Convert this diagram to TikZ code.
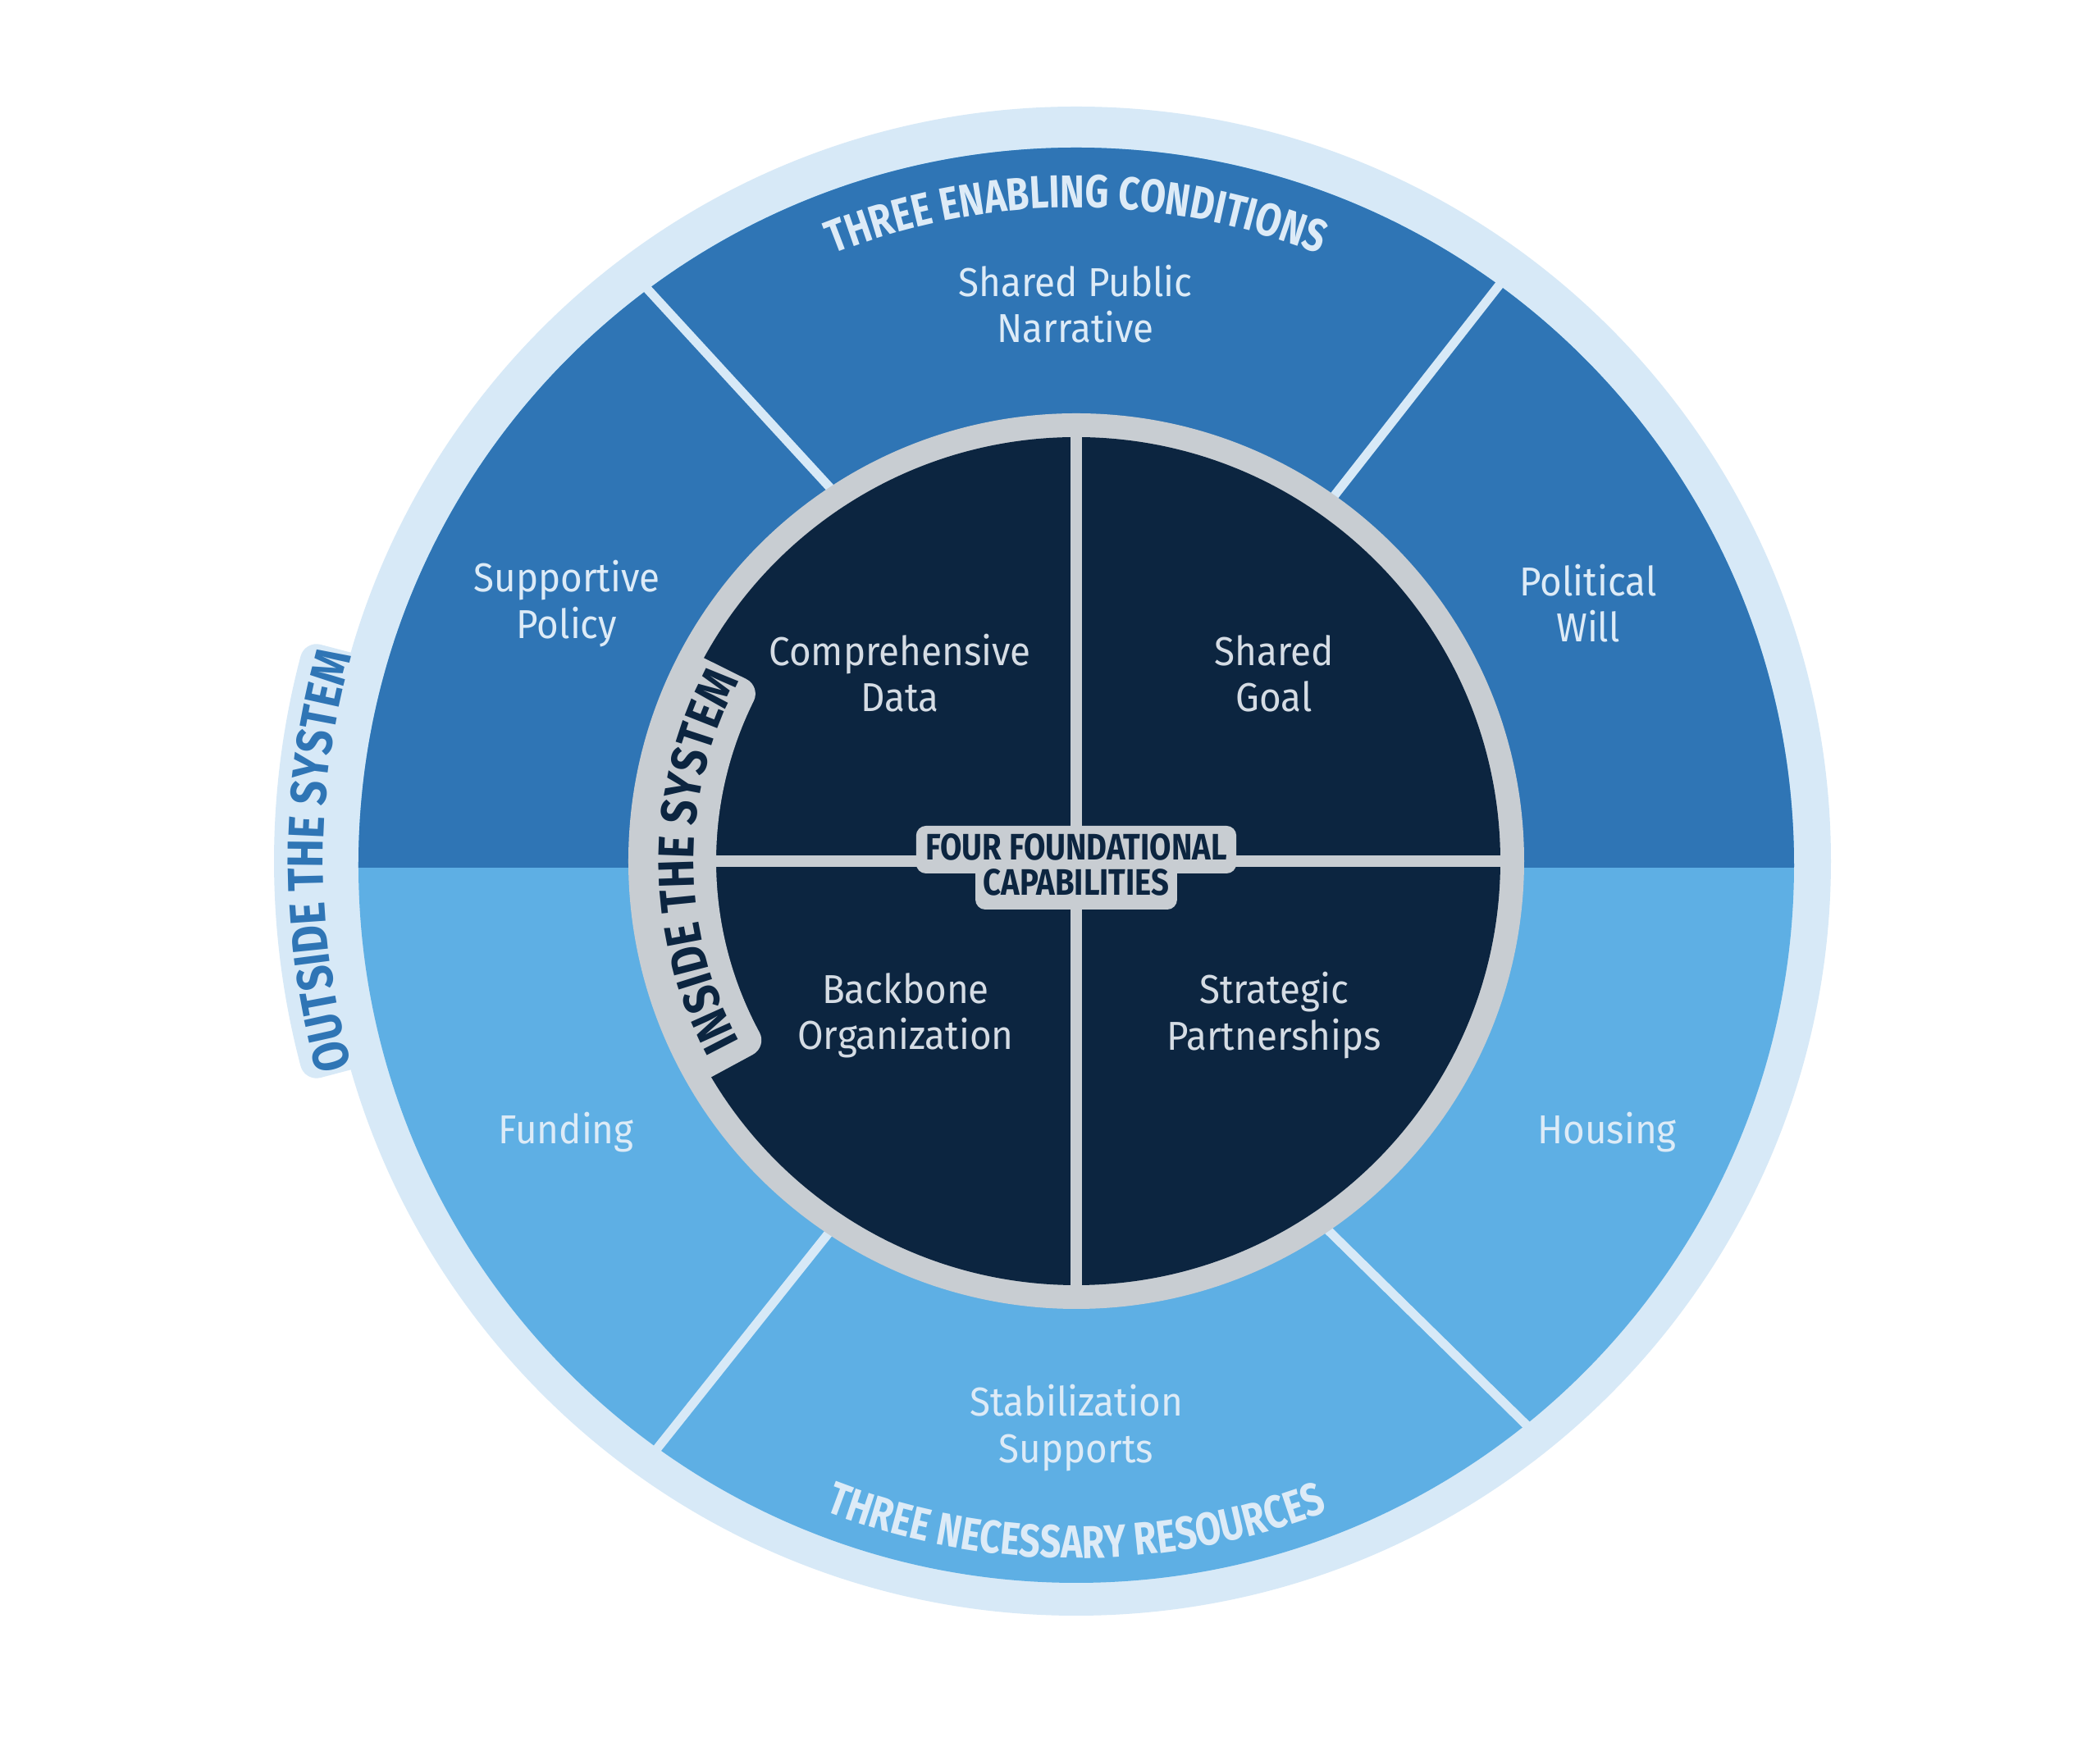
\documentclass[tikz,border=0pt]{standalone}
\usepackage{fontspec}
\setmainfont[FakeStretch=0.93]{Fira Sans}
\newfontfamily\capsfont[FakeStretch=0.85]{Fira Sans}
\newfontfamily\arcfont[FakeStretch=0.8]{Fira Sans}
\usetikzlibrary{decorations.text}
\definecolor{ringlight}{HTML}{D7E9F7}
\definecolor{blueup}{HTML}{2F75B5}
\definecolor{bluelow}{HTML}{5EAFE4}
\definecolor{navy}{HTML}{0C2540}
\definecolor{rimgray}{HTML}{C8CDD2}
\definecolor{paletext}{HTML}{DDEBF7}
\definecolor{greytext}{HTML}{D5DCE4}

\begin{document}
\begin{tikzpicture}[
  ringlabel/.style={font=\fontsize{14}{16}\selectfont, text=paletext, align=center},
  corelabel/.style={font=\fontsize{14}{16}\selectfont, text=greytext, align=center},
  spoke/.style={draw=ringlight, line width=0.11cm},
  cross/.style={draw=rimgray, line width=0.14cm},
  capbox/.style={fill=rimgray, text=navy, rounded corners=0.12cm, inner sep=0pt, anchor=base,
    font=\capsfont\bfseries\fontsize{12.8}{12.8}\selectfont}]
  \useasboundingbox (-13.12,-10.96) rectangle (12.48,10.50);
  \fill[white] (-13.12,-10.96) rectangle (12.48,10.50);

  \fill[ringlight] (0,0) circle (9.20);
  \fill[ringlight, draw=ringlight, line width=0.4cm, line join=round]
    (165.2:9.10) arc[start angle=165.2, end angle=194.8, radius=9.10]
    -- (194.8:9.58) arc[start angle=194.8, end angle=165.2, radius=9.58] -- cycle;
  \fill[bluelow] (0,-0.05) circle (8.75);
  \begin{scope}
    \clip (-9,-0.08) rectangle (9,9);
    \fill[blueup] (0,-0.05) circle (8.75);
  \end{scope}

  \coordinate (ulo) at (126.9:8.80);
  \coordinate (uli) at (123.3:5.40);
  \coordinate (uro) at (53.7:8.80);
  \coordinate (uri) at (54.8:5.40);
  \coordinate (llo) at (234.5:8.80);
  \coordinate (lli) at (236.4:5.40);
  \coordinate (lro) at (308.6:8.80);
  \coordinate (lri) at (304.2:5.40);
  \draw[spoke] (ulo) -- (uli);
  \draw[spoke] (uro) -- (uri);
  \draw[spoke] (llo) -- (lli);
  \draw[spoke] (lro) -- (lri);

  \fill[rimgray] (0,0) circle (5.46);
  \fill[navy] (0,0) circle (5.17);
  \coordinate (ctop) at (90:5.3);
  \coordinate (cbot) at (270:5.3);
  \coordinate (cleft) at (180:5.3);
  \coordinate (cright) at (0:5.3);
  \draw[cross] (ctop) -- (cbot);
  \draw[cross] (cleft) -- (cright);
  \fill[rimgray, draw=rimgray, line width=0.4cm, line join=round]
    (153.6:4.59) arc[start angle=153.6, end angle=208.4, radius=4.59]
    -- (208.4:5.2) arc[start angle=208.4, end angle=153.6, radius=5.2] -- cycle;

  \node[capbox, text height=0.42cm, text depth=0.16cm, inner xsep=0.115cm] (fourtop) at (0,0.01) {FOUR FOUNDATIONAL};
  \node[capbox, text height=0.40cm, text depth=0.17cm, inner xsep=0.095cm] (fourbot) at (0,-0.42) {CAPABILITIES};

  \node[ringlabel] (narrative) at (-0.01,6.79) {Shared Public\\Narrative};
  \node[ringlabel] (policy) at (-6.21,3.14) {Supportive\\Policy};
  \node[ringlabel] (will) at (6.24,3.14) {Political\\Will};
  \node[ringlabel] (funding) at (-6.22,-3.31) {Funding};
  \node[ringlabel] (housing) at (6.47,-3.31) {Housing};
  \node[ringlabel] (supports) at (0,-6.91) {Stabilization\\Supports};
  \node[corelabel] (data) at (-2.15,2.29) {Comprehensive\\Data};
  \node[corelabel] (goal) at (2.41,2.29) {Shared\\Goal};
  \node[corelabel] (backbone) at (-2.08,-1.88) {Backbone\\Organization};
  \node[corelabel] (partners) at (2.41,-1.88) {Strategic\\Partnerships};

  \path[decorate, decoration={text along path, text align=center, text color=paletext,
    text={|\arcfont\bfseries\fontsize{16}{16}\selectfont|THREE ENABLING CONDITIONS}}]
    (120:7.97) arc[start angle=120, end angle=60, radius=7.97];
  \path[decorate, decoration={text along path, text align=center, text color=paletext,
    text={|\arcfont\bfseries\fontsize{16}{16}\selectfont|THREE NECESSARY RESOURCES}}]
    (240:8.50) arc[start angle=240, end angle=300, radius=8.50];
  \path[decorate, decoration={text along path, text align=center, text color=blueup,
    text={|\capsfont\bfseries\fontsize{17.5}{17.5}\selectfont|OUTSIDE THE SYSTEM}}]
    (200:9.18) arc[start angle=200, end angle=160, radius=9.18];
  \path[decorate, decoration={text along path, text align=center, text color=navy,
    text={|\capsfont\bfseries\fontsize{17.5}{17.5}\selectfont|INSIDE THE SYSTEM}}]
    (212:4.66) arc[start angle=212, end angle=148, radius=4.66];
\end{tikzpicture}
\end{document}
